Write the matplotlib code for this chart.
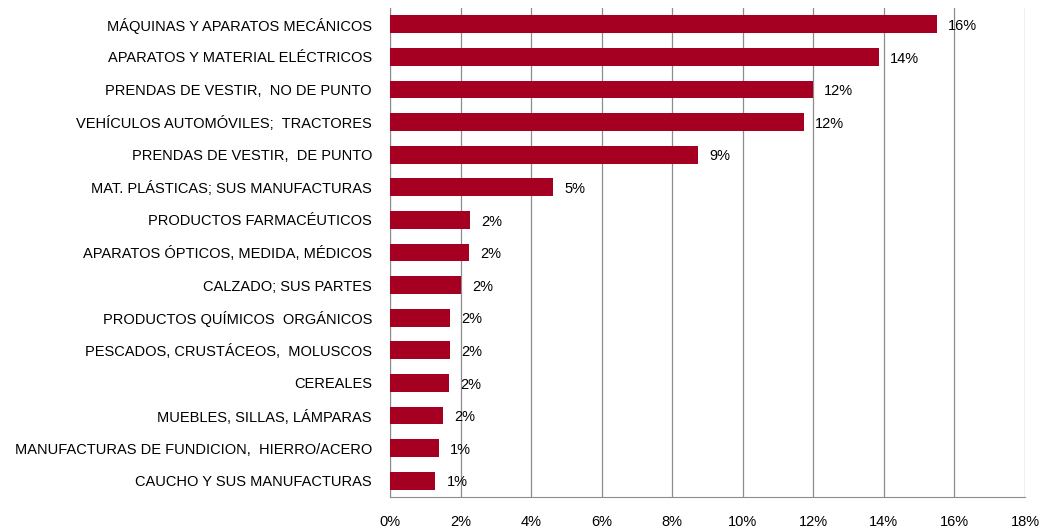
import matplotlib.pyplot as plt
from matplotlib.ticker import FuncFormatter

categorias = [
    "MÁQUINAS Y APARATOS MECÁNICOS",
    "APARATOS Y MATERIAL ELÉCTRICOS",
    "PRENDAS DE VESTIR,  NO DE PUNTO",
    "VEHÍCULOS AUTOMÓVILES;  TRACTORES",
    "PRENDAS DE VESTIR,  DE PUNTO",
    "MAT. PLÁSTICAS; SUS MANUFACTURAS",
    "PRODUCTOS FARMACÉUTICOS",
    "APARATOS ÓPTICOS, MEDIDA, MÉDICOS",
    "CALZADO; SUS PARTES",
    "PRODUCTOS QUÍMICOS  ORGÁNICOS",
    "PESCADOS, CRUSTÁCEOS,  MOLUSCOS",
    "CEREALES",
    "MUEBLES, SILLAS, LÁMPARAS",
    "MANUFACTURAS DE FUNDICION,  HIERRO/ACERO",
    "CAUCHO Y SUS MANUFACTURAS",
]
valores = [15.5, 13.85, 11.99, 11.73, 8.73, 4.62, 2.27, 2.24, 2.01,
           1.70, 1.70, 1.67, 1.50, 1.39, 1.28]
etiquetas = ["16%", "14%", "12%", "12%", "9%", "5%", "2%", "2%", "2%",
             "2%", "2%", "2%", "2%", "1%", "1%"]

plt.rcParams['font.family'] = ['Liberation Sans', 'DejaVu Sans']

fig = plt.figure(figsize=(10.42, 5.30), dpi=100)
ax = fig.add_axes([390 / 1042, 33 / 530, 635 / 1042, 489 / 530])

pos = list(range(len(categorias)))[::-1]
ax.barh(pos, valores, height=0.55, color='#A50021', zorder=3)

for p, v, t in zip(pos, valores, etiquetas):
    ax.text(v + 0.32, p - 0.05, t, va='center', ha='left', fontsize=10.5,
            color='black', zorder=4)

ax.set_xlim(0, 18)
ax.set_ylim(-0.5, len(categorias) - 0.5)
ax.set_xticks(range(0, 19, 2))
ax.xaxis.set_major_formatter(FuncFormatter(lambda x, _: f"{x:.0f}%"))
ax.set_yticks(pos)
ax.set_yticklabels(categorias, fontsize=10.5)
ax.tick_params(axis='x', length=0, pad=13, labelsize=10.5)
ax.tick_params(axis='y', length=0, pad=13)

ax.grid(axis='x', color='#8C8C8C', linewidth=0.9, zorder=0)
for s in ['top', 'right']:
    ax.spines[s].set_visible(False)
ax.spines['left'].set_color('#8C8C8C')
ax.spines['bottom'].set_color('#8C8C8C')

fig.savefig('out.png', dpi=100)
